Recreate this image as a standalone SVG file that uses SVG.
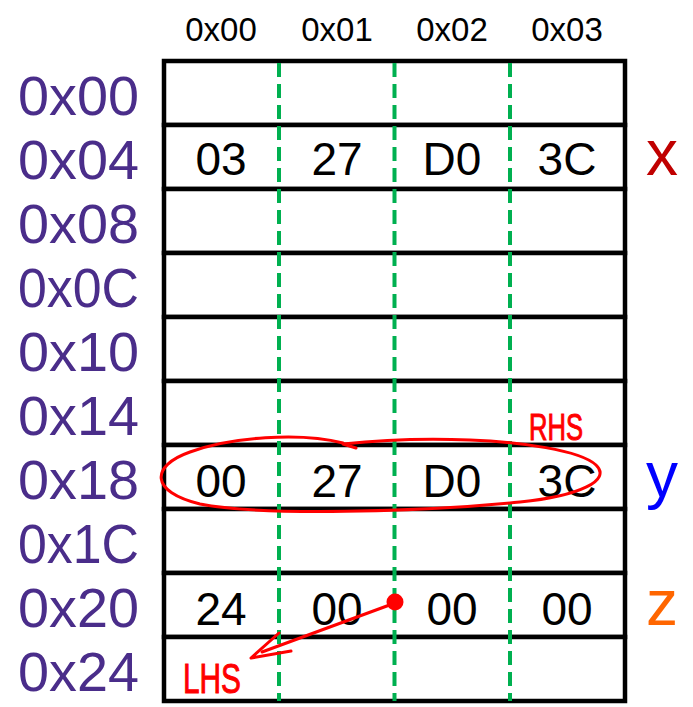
<svg xmlns="http://www.w3.org/2000/svg" width="693" height="707" viewBox="0 0 693 707">
<style>
.hdr{font-family:"Liberation Sans",Arial,sans-serif;font-size:33px;fill:#000;text-anchor:middle}
.addr{font-family:"Liberation Sans",Arial,sans-serif;font-size:56px;fill:#4A2D8A;text-anchor:end}
.cell{font-family:"Liberation Sans",Arial,sans-serif;font-size:46px;fill:#000;text-anchor:middle}
.row{fill:#fff;stroke:#000;stroke-width:4.5}
.dash{stroke:#00B050;stroke-width:4;stroke-dasharray:14 7;fill:none}
.var{font-family:"Liberation Sans",Arial,sans-serif;font-size:64px}
.ink{fill:none;stroke:#FF0000;stroke-width:3;stroke-linecap:round;stroke-linejoin:round}
.note{font-family:"Liberation Sans",Arial,sans-serif;fill:#FF0000;stroke:#FF0000;stroke-width:1}
</style>
<g id="headers">
<text class="hdr" x="221" y="41">0x00</text>
<text class="hdr" x="337" y="41">0x01</text>
<text class="hdr" x="452" y="41">0x02</text>
<text class="hdr" x="567" y="41">0x03</text>
</g>
<g id="addresses">
<text class="addr" x="139" y="115" textLength="121" lengthAdjust="spacingAndGlyphs">0x00</text>
<text class="addr" x="139" y="179" textLength="121" lengthAdjust="spacingAndGlyphs">0x04</text>
<text class="addr" x="139" y="243" textLength="121" lengthAdjust="spacingAndGlyphs">0x08</text>
<text class="addr" x="139" y="307" textLength="121" lengthAdjust="spacingAndGlyphs">0x0C</text>
<text class="addr" x="139" y="371" textLength="121" lengthAdjust="spacingAndGlyphs">0x10</text>
<text class="addr" x="139" y="435" textLength="121" lengthAdjust="spacingAndGlyphs">0x14</text>
<text class="addr" x="139" y="499" textLength="121" lengthAdjust="spacingAndGlyphs">0x18</text>
<text class="addr" x="139" y="563" textLength="121" lengthAdjust="spacingAndGlyphs">0x1C</text>
<text class="addr" x="139" y="627" textLength="121" lengthAdjust="spacingAndGlyphs">0x20</text>
<text class="addr" x="139" y="691" textLength="121" lengthAdjust="spacingAndGlyphs">0x24</text>
</g>
<g id="rows">
<rect class="row" x="164" y="61" width="461" height="64"/>
<rect class="row" x="164" y="125" width="461" height="64"/>
<rect class="row" x="164" y="189" width="461" height="64"/>
<rect class="row" x="164" y="253" width="461" height="64"/>
<rect class="row" x="164" y="317" width="461" height="64"/>
<rect class="row" x="164" y="381" width="461" height="64"/>
<rect class="row" x="164" y="445" width="461" height="64"/>
<rect class="row" x="164" y="509" width="461" height="64"/>
<rect class="row" x="164" y="573" width="461" height="64"/>
<rect class="row" x="164" y="637" width="461" height="64"/>
</g>
<g id="dividers">
<line class="dash" x1="279" y1="63" x2="279" y2="701"/>
<line class="dash" x1="394.5" y1="63" x2="394.5" y2="701"/>
<line class="dash" x1="510" y1="63" x2="510" y2="701"/>
</g>
<g id="x">
<text class="cell" x="221" y="175">03</text>
<text class="cell" x="337" y="175">27</text>
<text class="cell" x="452" y="175">D0</text>
<text class="cell" x="567" y="175">3C</text>
<text class="var" x="646" y="175" fill="#C00000">x</text>
</g>
<g id="y">
<text class="cell" x="221" y="497">00</text>
<text class="cell" x="337" y="497">27</text>
<text class="cell" x="452" y="497">D0</text>
<text class="cell" x="567" y="497">3C</text>
<text class="var" x="646" y="497" fill="#0000FF">y</text>
</g>
<g id="z">
<text class="cell" x="221" y="625">24</text>
<text class="cell" x="337" y="625">00</text>
<text class="cell" x="452" y="625">00</text>
<text class="cell" x="567" y="625">00</text>
<text class="var" x="646" y="625" fill="#FF6600">z</text>
</g>
<g id="annotations">
<path class="ink" d="M343 443 C300 432,230 437,190 452 C150 466,150 492,200 504 C260 516,420 512,520 502 C580 496,612 480,596 465 C580 450,520 442,470 440 C420 438,380 440,343 444 L356 448"/>
<text class="note" x="529" y="440" font-size="36" textLength="54" lengthAdjust="spacingAndGlyphs">RHS</text>
<circle cx="395" cy="602" r="8.5" fill="#FF0000"/>
<path class="ink" stroke-width="4" d="M395 603 L262 652"/>
<path class="ink" stroke-width="4" d="M279 633 L251 658 L291 651"/>
<text class="note" x="183" y="693" font-size="42" textLength="58" lengthAdjust="spacingAndGlyphs">LHS</text>
</g>
</svg>
